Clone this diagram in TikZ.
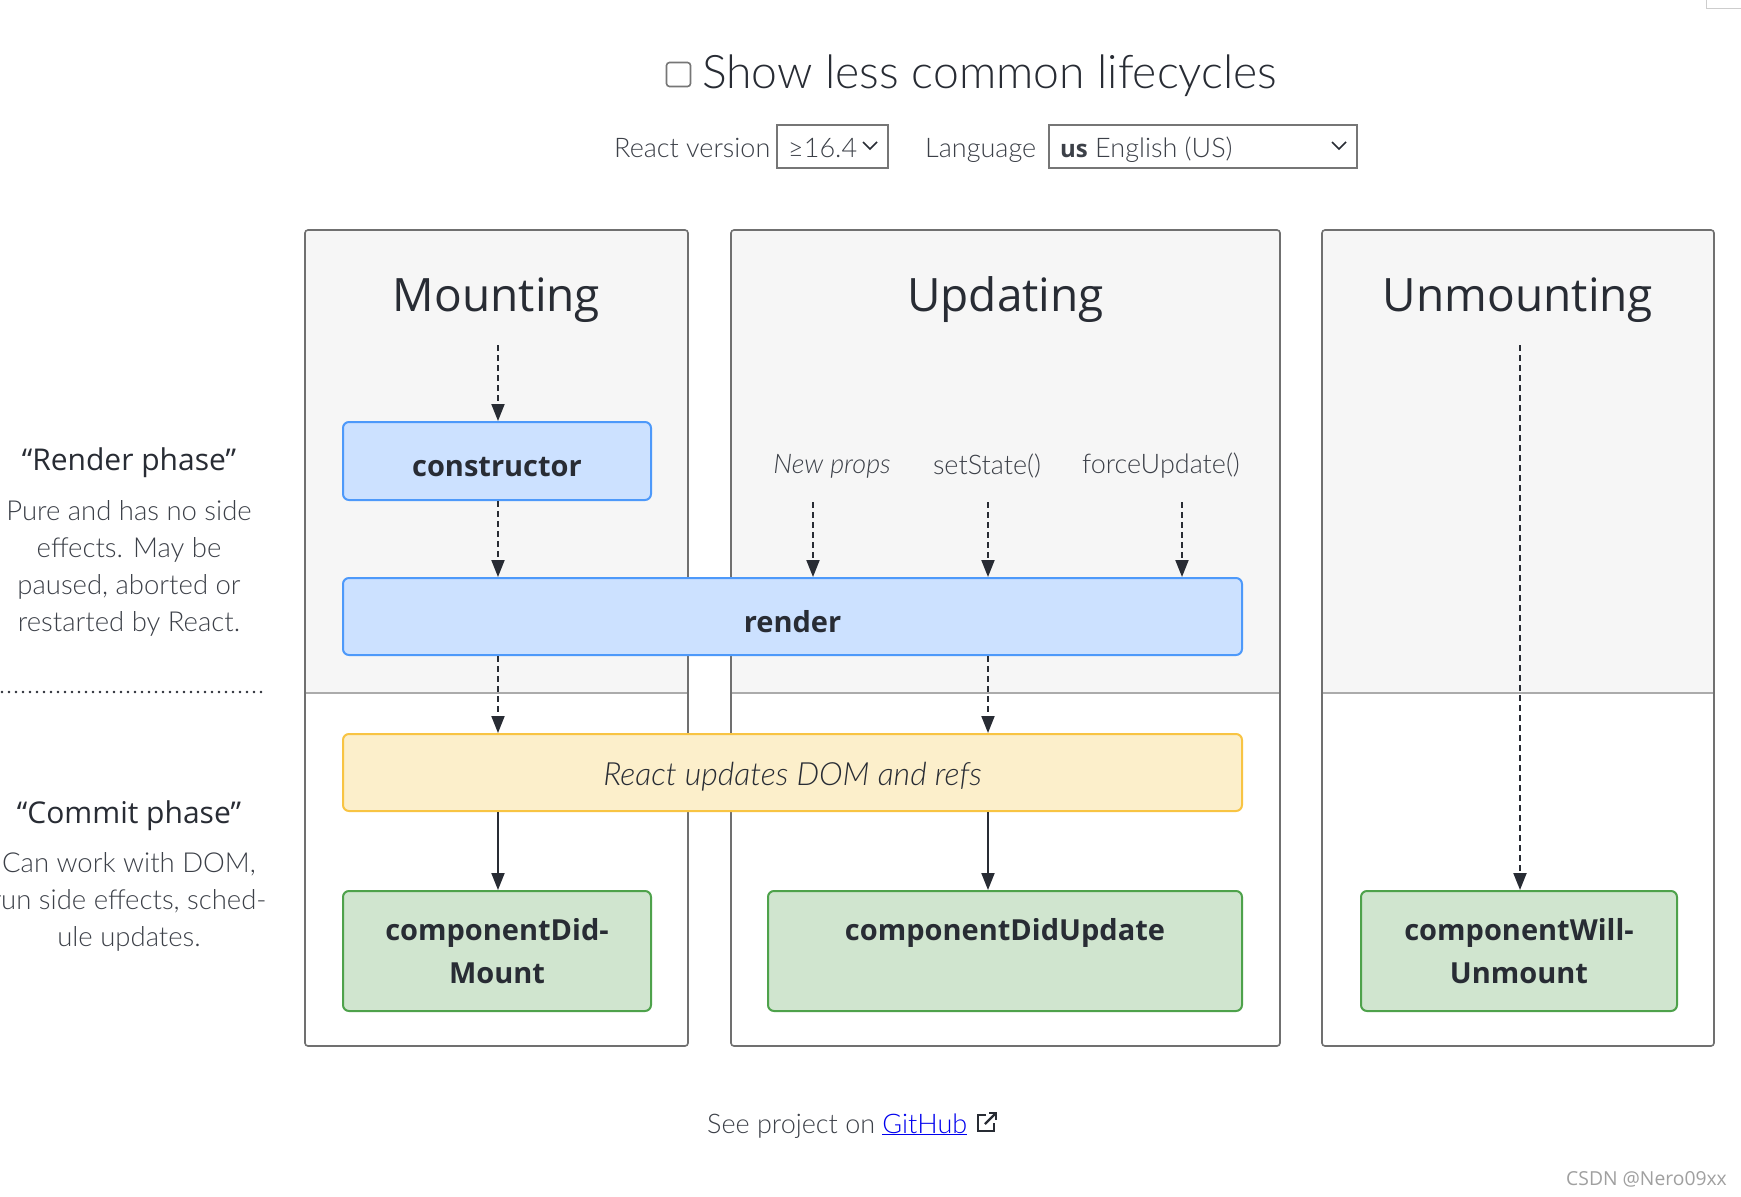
\documentclass[tikz,border=0pt]{standalone}
\usepackage{fontspec}
\setmainfont{Open Sans}
\newfontfamily\lightfont{Lato}[UprightFont=* Light, ItalicFont=* Light Italic, BoldFont=* Bold]
\usetikzlibrary{arrows.meta}
\definecolor{ink}{HTML}{282C34}
\definecolor{bodyink}{HTML}{3C4048}
\definecolor{panelgray}{HTML}{F6F6F6}
\definecolor{panelline}{HTML}{707070}
\definecolor{dividerc}{HTML}{ABABAB}
\definecolor{bluefill}{HTML}{CCE1FF}
\definecolor{blueline}{HTML}{4D99FA}
\definecolor{yellowfill}{HTML}{FCEFCB}
\definecolor{yellowline}{HTML}{F8C443}
\definecolor{greenfill}{HTML}{D0E5CF}
\definecolor{greenline}{HTML}{4EA24B}
\definecolor{linkblue}{HTML}{0000EE}
\definecolor{ctrlline}{HTML}{767676}
\definecolor{csdngray}{HTML}{A0A0A0}
\tikzset{
  panelframe/.style={draw=panelline, line width=1.6pt, rounded corners=3pt},
  dividerline/.style={draw=dividerc, line width=1.5pt},
  boxbase/.style={line width=2pt, rounded corners=6pt, text=ink, align=center, inner sep=0pt},
  bluebox/.style={boxbase, draw=blueline, fill=bluefill, font=\fontsize{29}{44}\selectfont\bfseries},
  yellowbox/.style={boxbase, draw=yellowline, fill=yellowfill, font=\lightfont\fontsize{32}{40}\selectfont\itshape},
  greenbox/.style={boxbase, draw=greenline, fill=greenfill, font=\fontsize{29}{43}\selectfont\bfseries},
  paneltitle/.style={text=ink, font=\fontsize{46}{50}\selectfont, inner sep=0pt},
  evlabel/.style={text=bodyink, font=\lightfont\fontsize{27}{32}\selectfont, inner sep=0pt},
  phasetitle/.style={text=ink, font=\fontsize{30}{36}\selectfont, inner sep=0pt},
  phasebody/.style={text=bodyink, font=\lightfont\fontsize{27.5}{37}\selectfont, align=center, inner sep=0pt},
  ctrltext/.style={text=bodyink, font=\lightfont\fontsize{27}{32}\selectfont, inner sep=0pt},
  ctrlbox/.style={draw=ctrlline, line width=1.6pt, inner sep=0pt},
  flowline/.style={draw=ink, line width=2pt, -{Triangle[width=13pt,length=17pt]}},
  dflowline/.style={flowline, dash pattern=on 6pt off 4pt},
  dotline/.style={draw=ink, line width=2.8pt, line cap=round, dash pattern=on 0pt off 7pt},
}
\begin{document}
\begin{tikzpicture}[x=1pt,y=-1pt]
\useasboundingbox[fill=white] (0,0) rectangle (1741,1197);

% ---------- header ----------
\node[draw=ctrlline, line width=1.6pt, rounded corners=3pt, minimum width=24pt, minimum height=24pt, inner sep=0pt] (cb) at (678.5,74.5) {};
\node[anchor=base west, text=ink, font=\lightfont\fontsize{46.3}{50}\selectfont, inner sep=0pt] (hdr) at (702,88) {Show less common lifecycles};

\node[ctrltext, anchor=base west] (rv) at (614,157) {React version};
\node[ctrlbox, minimum width=111pt, minimum height=43pt] (vbox) at (832.5,146.5) {};
\node[ctrltext, anchor=base west] (vtxt) at (788,157) {≥16.4};
\draw[ink, line width=1.6pt] (863,142) -- (870,149) -- (877,142);

\node[ctrltext, anchor=base west] (lang) at (925,157) {Language};
\node[ctrlbox, minimum width=308pt, minimum height=43pt] (lbox) at (1203,146.5) {};
\node[ctrltext, anchor=base west] (ltxt) at (1060,157) {{\rmfamily\bfseries\fontsize{24}{30}\selectfont us} English (US)};
\draw[ink, line width=1.6pt] (1332,142) -- (1339,149) -- (1346,142);

% ---------- panels ----------
\foreach \xa/\xb in {305/688, 731/1280, 1322/1714}{
  \begin{scope}
    \clip[rounded corners=3pt] (\xa,230) rectangle (\xb,1046);
    \fill[white] (\xa,230) rectangle (\xb,1046);
    \fill[panelgray] (\xa,230) rectangle (\xb,693);
  \end{scope}
  \draw[dividerline] (\xa,693) -- (\xb,693);
  \draw[panelframe] (\xa,230) rectangle (\xb,1046);
}
\node[paneltitle] (tmount) at (496.5,300) {Mounting};
\node[paneltitle] (tupdate) at (1005.5,300) {Updating};
\node[paneltitle] (tunmount) at (1518,300) {Unmounting};

% ---------- boxes ----------
\node[bluebox, minimum width=308pt, minimum height=78pt, text height=32pt] (ctor) at (497,461) {constructor};
\node[bluebox, minimum width=899pt, minimum height=77pt, text height=32pt] (render) at (792.5,616.5) {render};
\node[yellowbox, minimum width=899pt, minimum height=77pt, text height=31pt] (dom) at (792.5,772.5) {React updates DOM and refs};
\node[greenbox, minimum width=308pt, minimum height=120pt] (cdm) at (497,951) {componentDid-\\Mount};
\node[greenbox, minimum width=474pt, minimum height=120pt] (cdu) at (1005,951) {componentDidUpdate\\\phantom{Mount}};
\node[greenbox, minimum width=316pt, minimum height=120pt] (cwu) at (1519,951) {componentWill-\\Unmount};

% ---------- update triggers ----------
\node[evlabel, font=\lightfont\fontsize{27}{32}\selectfont\itshape] (np) at (832,466) {New props};
\node[evlabel] (ss) at (987,466) {setState()};
\node[evlabel] (fu) at (1161,466) {forceUpdate()};

% ---------- connectors ----------
\coordinate (ms) at (498,345);
\draw[dflowline] (ms) -- (ms |- ctor.north);
\draw[dflowline] (ms |- ctor.south) -- (ms |- render.north);
\draw[dflowline] (ms |- render.south) -- (ms |- dom.north);
\draw[flowline] (ms |- dom.south) -- (ms |- cdm.north);

\coordinate (npa) at (813,502);
\coordinate (ssa) at (988,502);
\coordinate (fua) at (1182,502);
\draw[dflowline] (npa) -- (npa |- render.north);
\draw[dflowline] (ssa) -- (ssa |- render.north);
\draw[dflowline] (fua) -- (fua |- render.north);
\draw[dflowline] (ssa |- render.south) -- (ssa |- dom.north);
\draw[flowline] (ssa |- dom.south) -- (ssa |- cdu.north);

\coordinate (ua) at (1520,345);
\draw[dflowline] (ua) -- (ua |- cwu.north);

% ---------- left side phase notes ----------
\node[phasetitle] (rp) at (129,463) {“Render phase”};
\node[phasebody] (rpb) at (129,568) {Pure and has no side\\effects. May be\\paused, aborted or\\restarted by React.};
\coordinate (dl) at (2,692);
\coordinate (dr) at (263,692);
\draw[dotline] (dl) -- (dr);
\node[phasetitle] (cp) at (129,816) {“Commit phase”};
\node[phasebody] (cpb) at (129,902) {Can work with DOM,\\run side effects, sched-\\ule updates.};

% ---------- footer ----------
\node[ctrltext, anchor=base west] (see) at (707,1133) {See project on \textcolor{linkblue}{\underline{GitHub}}};
\draw[ink, line width=2.4pt] (986,1115) -- (978,1115) -- (978,1131) -- (994,1131) -- (994,1123);
\draw[ink, line width=2.4pt] (985,1124) -- (995,1114);
\draw[ink, line width=2.4pt] (989,1113) -- (996,1113) -- (996,1120);

\node[anchor=base east, text=csdngray, font=\fontsize{19.3}{24}\selectfont, inner sep=0pt] (csdn) at (1727,1185) {CSDN @Nero09xx};

% top-right corner artifact
\draw[dividerc!60, fill=white] (1706,-2) rectangle (1745,8);
\end{tikzpicture}
\end{document}
